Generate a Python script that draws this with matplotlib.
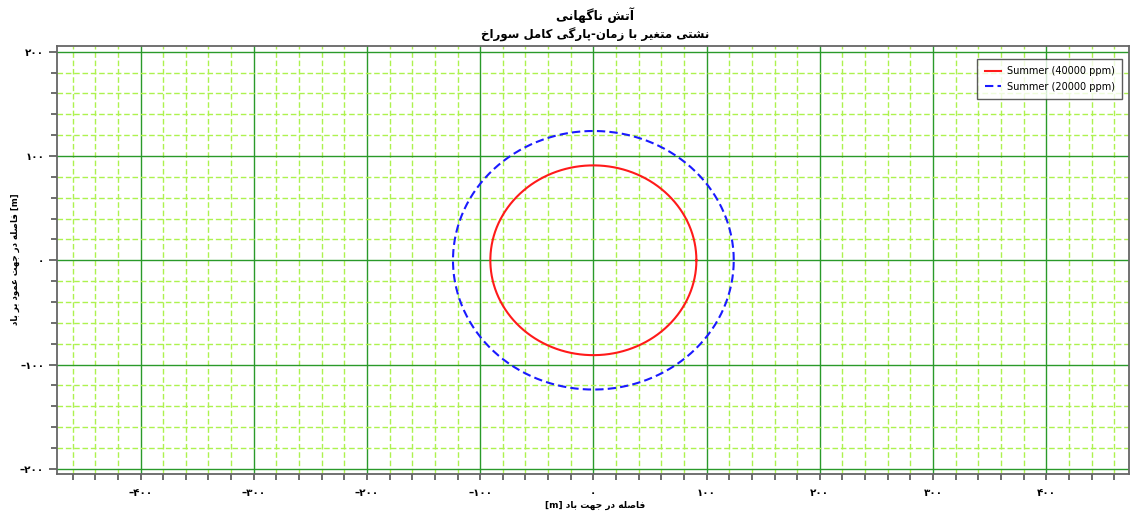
import numpy as np
import matplotlib
matplotlib.use("Agg")
import matplotlib.pyplot as plt
from matplotlib.ticker import MultipleLocator, FuncFormatter

# ---- data -------------------------------------------------------------
series_labels = ["Summer (40000 ppm)", "Summer (20000 ppm)"]
radius_downwind = [91, 124]      # m, half-width along wind direction
radius_crosswind = [91, 124]     # m, half-width across wind direction
series_colors = ["#ff1a1a", "#1a1aff"]
series_styles = ["-", "--"]

title_main = "آتش ناگهانی"
title_sub = "نشتی متغیر با زمان-پارگی کامل سوراخ"
xlabel_text = "فاصله در جهت باد"
ylabel_text = "فاصله در جهت عمود بر باد"
unit_text = "[m]"

x_limits = (-474, 473)
y_limits = (-205, 205.5)

# ---- minimal Persian shaping (presentation forms) + RTL ordering ------
FORMS = {
    # char: (isolated, final, initial, medial)
    "ا": ("\uFE8D", "\uFE8E", None, None),
    "آ": ("\uFE81", "\uFE82", None, None),
    "ب": ("\uFE8F", "\uFE90", "\uFE91", "\uFE92"),
    "پ": ("\uFB56", "\uFB57", "\uFB58", "\uFB59"),
    "ت": ("\uFE95", "\uFE96", "\uFE97", "\uFE98"),
    "ث": ("\uFE99", "\uFE9A", "\uFE9B", "\uFE9C"),
    "ج": ("\uFE9D", "\uFE9E", "\uFE9F", "\uFEA0"),
    "چ": ("\uFB7A", "\uFB7B", "\uFB7C", "\uFB7D"),
    "ح": ("\uFEA1", "\uFEA2", "\uFEA3", "\uFEA4"),
    "خ": ("\uFEA5", "\uFEA6", "\uFEA7", "\uFEA8"),
    "د": ("\uFEA9", "\uFEAA", None, None),
    "ذ": ("\uFEAB", "\uFEAC", None, None),
    "ر": ("\uFEAD", "\uFEAE", None, None),
    "ز": ("\uFEAF", "\uFEB0", None, None),
    "ژ": ("\uFB8A", "\uFB8B", None, None),
    "س": ("\uFEB1", "\uFEB2", "\uFEB3", "\uFEB4"),
    "ش": ("\uFEB5", "\uFEB6", "\uFEB7", "\uFEB8"),
    "ص": ("\uFEB9", "\uFEBA", "\uFEBB", "\uFEBC"),
    "ض": ("\uFEBD", "\uFEBE", "\uFEBF", "\uFEC0"),
    "ط": ("\uFEC1", "\uFEC2", "\uFEC3", "\uFEC4"),
    "ظ": ("\uFEC5", "\uFEC6", "\uFEC7", "\uFEC8"),
    "ع": ("\uFEC9", "\uFECA", "\uFECB", "\uFECC"),
    "غ": ("\uFECD", "\uFECE", "\uFECF", "\uFED0"),
    "ف": ("\uFED1", "\uFED2", "\uFED3", "\uFED4"),
    "ق": ("\uFED5", "\uFED6", "\uFED7", "\uFED8"),
    "ک": ("\uFB8E", "\uFB8F", "\uFB90", "\uFB91"),
    "گ": ("\uFB92", "\uFB93", "\uFB94", "\uFB95"),
    "ل": ("\uFEDD", "\uFEDE", "\uFEDF", "\uFEE0"),
    "م": ("\uFEE1", "\uFEE2", "\uFEE3", "\uFEE4"),
    "ن": ("\uFEE5", "\uFEE6", "\uFEE7", "\uFEE8"),
    "ه": ("\uFEE9", "\uFEEA", "\uFEEB", "\uFEEC"),
    "و": ("\uFEED", "\uFEEE", None, None),
    "ی": ("\uFBFC", "\uFBFD", "\uFBFE", "\uFBFF"),
}


def _joins_next(ch):
    return ch in FORMS and FORMS[ch][2] is not None


def persian(text):
    """Contextual shaping followed by right-to-left visual ordering."""
    out = []
    for i, ch in enumerate(text):
        if ch not in FORMS:
            out.append(ch)
            continue
        prev_join = i > 0 and _joins_next(text[i - 1])
        next_join = (i < len(text) - 1 and text[i + 1] in FORMS
                     and _joins_next(ch))
        iso, fin, ini, med = FORMS[ch]
        if prev_join and next_join:
            out.append(med)
        elif prev_join:
            out.append(fin)
        elif next_join:
            out.append(ini)
        else:
            out.append(iso)
    return "".join(reversed(out))


PERSIAN_DIGITS = str.maketrans("0123456789", "۰۱۲۳۴۵۶۷۸۹")


def fa_tick(v, pos):
    n = int(round(v))
    s = str(abs(n)).translate(PERSIAN_DIGITS)
    return ("\u2013" + s) if n < 0 else s


plt.rcParams["font.family"] = ["DejaVu Sans"]

# ---- figure -----------------------------------------------------------
fig = plt.figure(figsize=(11.3, 5.14), dpi=100)
ax = fig.add_axes([0.0502, 0.0778, 0.9488, 0.8327])

theta = np.linspace(0, 2 * np.pi, 400)
for lab, rx, ry, col, ls in zip(series_labels, radius_downwind, radius_crosswind,
                                series_colors, series_styles):
    kw = dict(dashes=(4, 2)) if ls == "--" else {}
    ax.plot(rx * np.cos(theta), ry * np.sin(theta), color=col, lw=1.5,
            linestyle=ls, label=lab, zorder=3, **kw)

ax.set_xlim(*x_limits)
ax.set_ylim(*y_limits)

ax.xaxis.set_major_locator(MultipleLocator(100))
ax.xaxis.set_minor_locator(MultipleLocator(20))
ax.yaxis.set_major_locator(MultipleLocator(100))
ax.yaxis.set_minor_locator(MultipleLocator(20))
ax.xaxis.set_major_formatter(FuncFormatter(fa_tick))
ax.yaxis.set_major_formatter(FuncFormatter(fa_tick))

ax.grid(which="minor", color="#adf24e", linestyle=(0, (4, 2)), lw=1.0, zorder=0)
ax.grid(which="major", color="#2a9a2a", linestyle="-", lw=1.0, zorder=1)
ax.set_axisbelow(True)

for sp in ax.spines.values():
    sp.set_color("#666666")
    sp.set_linewidth(1.3)

ax.tick_params(which="major", direction="out", length=6, width=1.2,
               color="#555555", labelsize=7.5)
ax.tick_params(which="minor", direction="out", length=4, width=1.2,
               color="#555555")
ax.tick_params(axis="x", which="major", length=4, pad=6)
ax.tick_params(axis="y", which="major", pad=3)
for t in ax.get_xticklabels() + ax.get_yticklabels():
    t.set_fontweight("bold")

leg = ax.legend(loc="upper right", fontsize=7, frameon=True, fancybox=False,
                borderpad=0.8, handlelength=1.6, handletextpad=0.6,
                labelspacing=0.55, bbox_to_anchor=(0.9985, 0.982))
leg.get_frame().set_edgecolor("#333333")
leg.get_frame().set_linewidth(1.0)

fig.text(0.5265, 0.971, persian(title_main), ha="center", va="center",
         fontsize=9, fontweight="bold")
fig.text(0.5265, 0.933, persian(title_sub), ha="center", va="center",
         fontsize=8.5, fontweight="bold")
fig.text(0.5265, 0.016, unit_text + " " + persian(xlabel_text),
         ha="center", va="center", fontsize=6.5, fontweight="bold")
fig.text(0.014, 0.495, persian(ylabel_text) + " " + unit_text,
         ha="center", va="center", rotation=90, fontsize=6.2,
         fontweight="bold")

fig.savefig("out.png", dpi=100)
